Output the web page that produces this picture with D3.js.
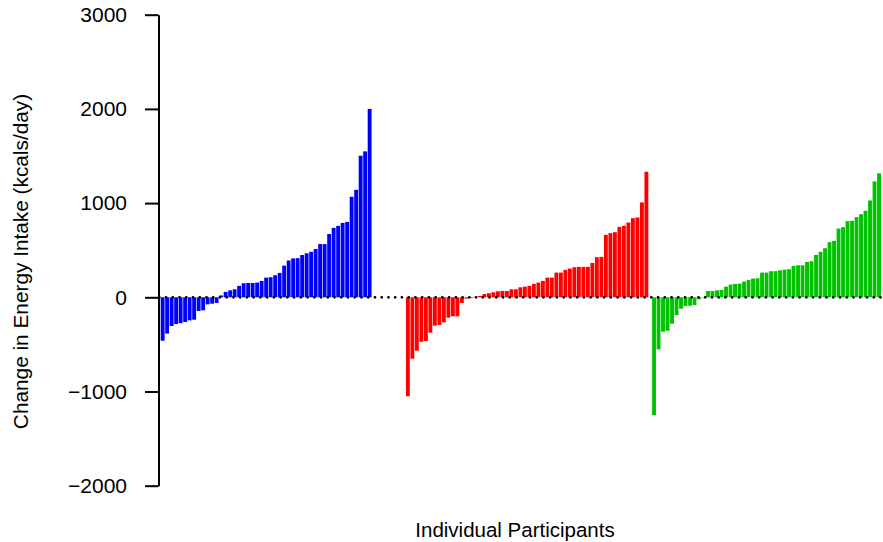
<!DOCTYPE html>
<html>
<head>
<meta charset="utf-8">
<script src="https://cdn.jsdelivr.net/npm/d3@7"></script>
<style>
  html, body { margin: 0; padding: 0; background: #ffffff; }
  svg { display: block; }
  text { font-family: "Liberation Sans", Arial, Helvetica, sans-serif; fill: #000; }
</style>
</head>
<body>
<svg id="chart" width="883" height="542"></svg>
<script>
// Change in energy intake per participant, sorted within each group
const blueValues = [-461, -385, -305, -284, -275, -262, -245, -238, -145, -138, -75, -68, -60,
  20, 57, 74, 85, 121, 149, 152, 152, 156, 174, 209, 213, 234, 259, 336, 391, 413, 416,
  449, 467, 483, 513, 565, 565, 672, 737, 758, 790, 800, 1067, 1141, 1503, 1549, 2000];

const redValues = [-1050, -652, -567, -472, -465, -376, -301, -294, -266, -216, -202, -202, -60,
  -14, -8, 5, 14, 35, 43, 53, 64, 67, 67, 85, 85, 106, 113, 121, 142, 156, 174, 209, 209,
  262, 262, 291, 305, 319, 323, 323, 323, 365, 426, 429, 663, 681, 691, 748, 759, 794,
  840, 848, 1007, 1333];

const greenValues = [-1252, -553, -365, -355, -280, -188, -121, -92, -89, -82, -21, -5,
  67, 67, 74, 78, 113, 135, 142, 145, 167, 184, 199, 202, 262, 262, 277, 277, 287, 294,
  298, 333, 340, 340, 376, 383, 450, 482, 521, 585, 599, 730, 745, 809, 812, 851, 883,
  918, 1028, 1230, 1316];

const yTicks = [-2000, -1000, 0, 1000, 2000, 3000];
const yTitle = "Change in Energy Intake (kcals/day)";
const xTitle = "Individual Participants";

// group layout: starting slot of each group along the participant axis
const groups = [
  { values: blueValues,  color: "#0000ff", start: 0 },
  { values: redValues,   color: "#ff0000", start: 54.5 },
  { values: greenValues, color: "#00c200", start: 109.2 }
];

const svg = d3.select("#chart");

const lastSlot = groups[2].start + greenValues.length - 1 + 1;
const x = d3.scaleLinear().domain([0, lastSlot]).range([160.7, 160.7 + 4.5 * lastSlot]);
const y = d3.scaleLinear().domain([-2000, 3000]).range([485.7, 14.7]);
const barW = x(0.86) - x(0);

// bars
groups.forEach((g, gi) => {
  svg.append("g")
    .attr("class", "bars-" + gi)
    .selectAll("rect")
    .data(g.values)
    .join("rect")
    .attr("x", (d, i) => x(g.start + i))
    .attr("width", barW)
    .attr("y", d => y(Math.max(0, d)))
    .attr("height", d => Math.abs(y(d) - y(0)))
    .attr("fill", g.color);
});

// dotted zero reference line
svg.append("line")
  .attr("x1", 159.3).attr("x2", 881)
  .attr("y1", y(0)).attr("y2", y(0))
  .attr("stroke", "#000")
  .attr("stroke-width", 2.8)
  .attr("stroke-linecap", "round")
  .attr("stroke-dasharray", "0,6.74");

// y axis
const axisX = 158.5;
const yAxis = d3.axisLeft(y)
  .tickValues(yTicks)
  .tickFormat(d3.format("d"))
  .tickSize(13.5)
  .tickSizeOuter(0)
  .tickPadding(18);

const ag = svg.append("g")
  .attr("transform", `translate(${axisX},0)`)
  .call(yAxis);
ag.select(".domain").attr("stroke", "#000").attr("stroke-width", 2);
ag.selectAll(".tick line").attr("stroke", "#000").attr("stroke-width", 2);
ag.selectAll(".tick text")
  .attr("font-size", 21)
  .attr("font-family", "Liberation Sans, Arial, sans-serif")
  .attr("fill", "#000");

// axis titles
svg.append("text")
  .attr("x", 515)
  .attr("y", 537)
  .attr("text-anchor", "middle")
  .attr("font-size", 20.5)
  .text(xTitle);

svg.append("text")
  .attr("transform", `translate(28,${261.5}) rotate(-90)`)
  .attr("text-anchor", "middle")
  .attr("font-size", 20.8)
  .text(yTitle);
</script>
</body>
</html>
